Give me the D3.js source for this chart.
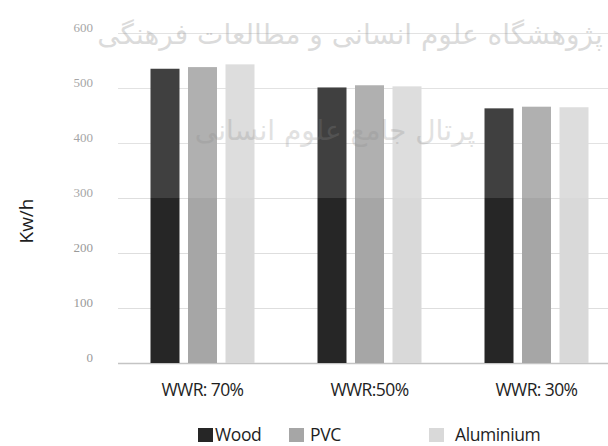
<!DOCTYPE html>
<html><head><meta charset="utf-8">
<script src="https://cdn.jsdelivr.net/npm/d3@7"></script>
<style>body{margin:0;background:#fff;overflow:hidden}</style>
</head><body>
<svg id="c" width="608" height="446"></svg>
<script>
const categories = ["WWR: 70%", "WWR:50%", "WWR: 30%"];
const seriesNames = ["Wood", "PVC", "Aluminium"];
const wood = [535, 501, 463];
const pvc = [538, 505, 466];
const aluminium = [543, 503, 465];
const yTicks = [0, 100, 200, 300, 400, 500, 600];
const colors = ["#262626", "#a6a6a6", "#d9d9d9"];
const watermark1 = "پژوهشگاه علوم انسانی و مطالعات فرهنگی";
const watermark2 = "پرتال جامع علوم انسانی";

const series = [wood, pvc, aluminium];
const svg = d3.select("#c");
const x0 = d3.scaleBand().domain(categories).range([119, 620]).padding(0);
const x1 = d3.scaleBand().domain(seriesNames).range([-52, 52]).paddingInner(0.227).paddingOuter(0);
const y = d3.scaleLinear().domain([0, 600]).range([363, 33]);

// gridlines
const grid = svg.append("g");
grid.selectAll("line").data(yTicks).join("line")
  .attr("x1", 118).attr("x2", 620)
  .attr("y1", d => y(d) + 0.5).attr("y2", d => y(d) + 0.5)
  .attr("stroke", d => d === 0 ? "#c4c4c4" : "#dedede").attr("stroke-width", d => d === 0 ? 1.5 : 1);

// y axis labels
const yAxis = d3.axisLeft(y).tickValues(yTicks).tickSize(0).tickPadding(0);
const ya = svg.append("g").attr("transform", "translate(93,0)").call(yAxis);
ya.select(".domain").remove();
ya.selectAll("text").attr("dy", "-0.12em").attr("fill", "#9a9a9a")
  .style("font-family", "'Liberation Serif', serif").style("font-size", "13px");

// bars
const groups = svg.append("g").selectAll("g").data(categories).join("g")
  .attr("transform", d => `translate(${x0(d) + x0.bandwidth() / 2},0)`);
groups.selectAll("rect").data((c, i) => seriesNames.map((s, j) => ({ s, v: series[j][i], j })))
  .join("rect")
  .attr("x", d => x1(d.s)).attr("width", x1.bandwidth())
  .attr("y", d => y(d.v)).attr("height", d => y(0) - y(d.v))
  .attr("fill", d => colors[d.j]);

// x axis labels
const xAxis = d3.axisBottom(x0).tickSize(0).tickPadding(0);
const xa = svg.append("g").attr("transform", "translate(0,383)").call(xAxis);
xa.select(".domain").remove();
xa.selectAll("text").attr("dy", "0.75em").attr("fill", "#1e1e1e")
  .style("font-family", "'Open Sans', sans-serif").style("font-size", "17.5px").style("letter-spacing", "-0.6px");

// y title
svg.append("text").attr("transform", "translate(33,221) rotate(-90)")
  .attr("text-anchor", "middle").attr("fill", "#1e1e1e")
  .style("font-family", "'Open Sans', sans-serif").style("font-size", "19px").text("Kw/h");

// legend
const legSwatchX = [198, 289, 429];
const legTextX = [215, 310, 455];
const leg = svg.append("g");
seriesNames.forEach((s, i) => {
  leg.append("rect").attr("x", legSwatchX[i]).attr("y", 428).attr("width", 15).attr("height", 14).attr("fill", colors[i]);
  leg.append("text").attr("x", legTextX[i]).attr("y", 441).attr("fill", "#1e1e1e")
    .style("font-family", "'Open Sans', sans-serif").style("font-size", "17.5px").style("letter-spacing", "-0.4px").text(s);
});

// scan wash in upper area
svg.append("rect").attr("x", 0).attr("y", 0).attr("width", 608).attr("height", y(300)).attr("fill", "#fff").attr("opacity", 0.12);

// watermark
svg.append("text").attr("x", 350).attr("y", 44).attr("text-anchor", "middle")
  .attr("fill", "#8a8a8a").attr("opacity", 0.3)
  .style("font-family", "'DejaVu Sans', sans-serif").style("font-size", "28px").text(watermark1);
svg.append("text").attr("x", 335).attr("y", 140).attr("text-anchor", "middle")
  .attr("fill", "#8a8a8a").attr("opacity", 0.25)
  .style("font-family", "'DejaVu Sans', sans-serif").style("font-size", "28px").text(watermark2);
</script>
</body></html>
